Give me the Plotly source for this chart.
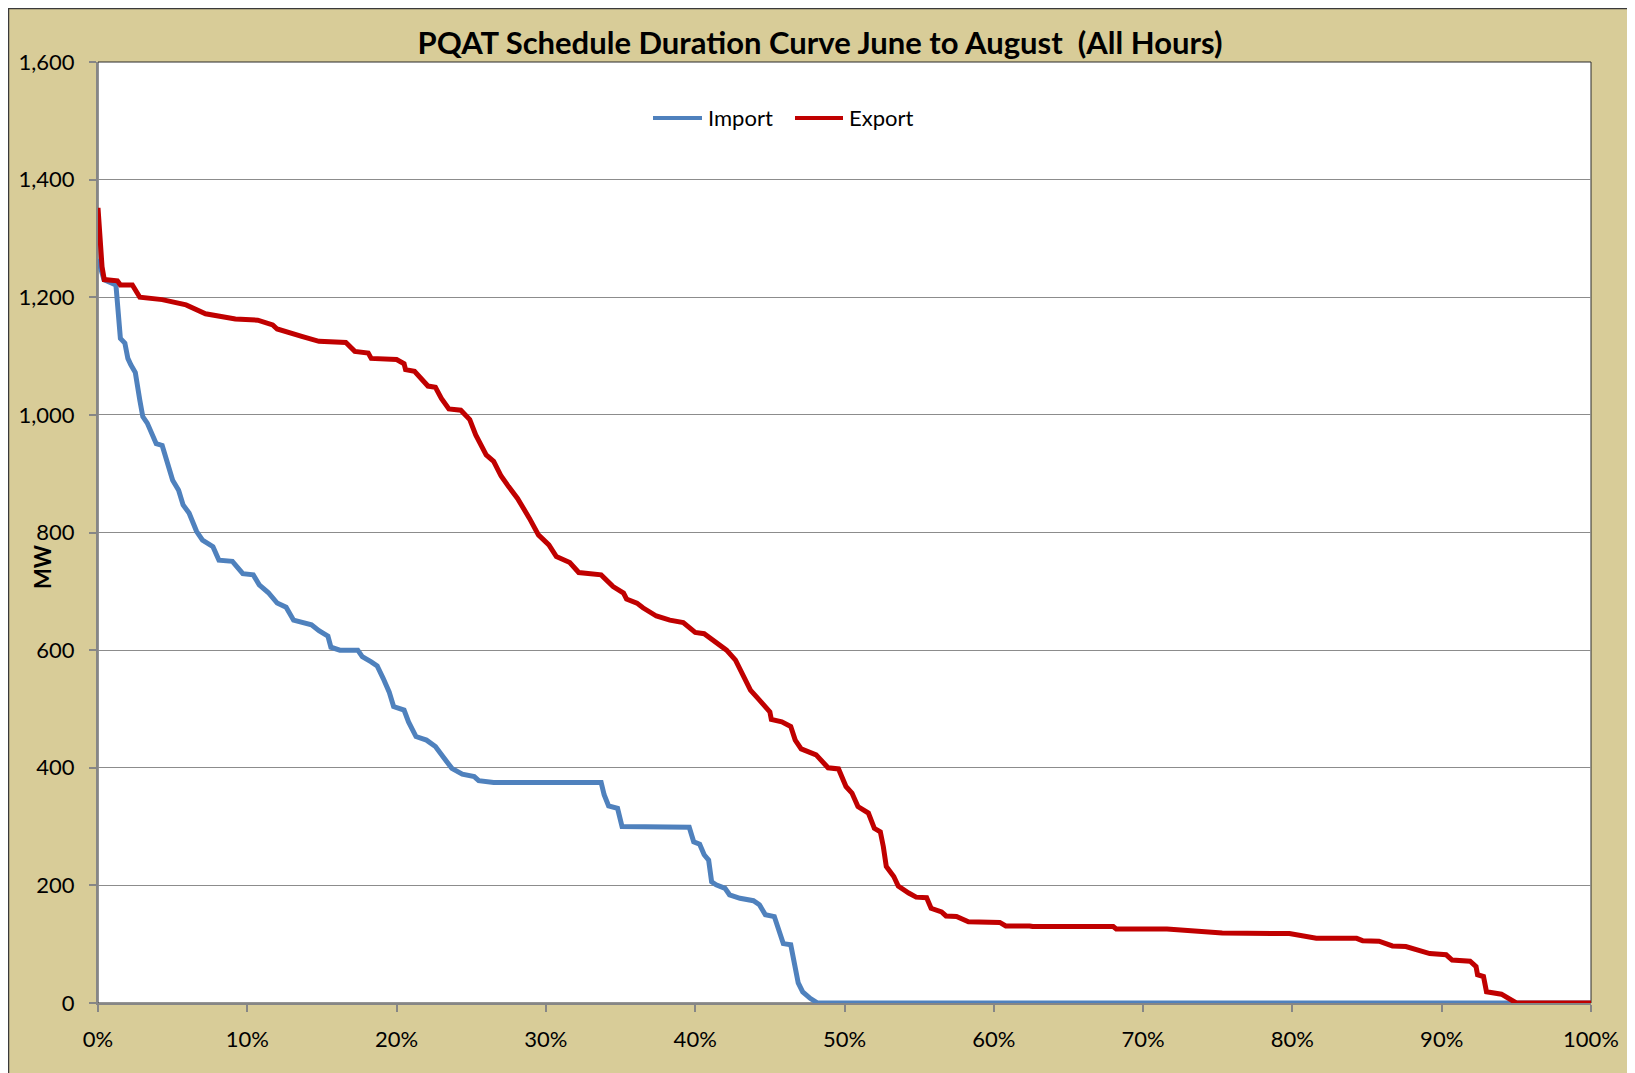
import plotly.graph_objects as go

# Duration curve values (x = % of hours, y = MW)
import_pct = [0, 0.1, 0.4, 1.2, 1.4, 1.5, 1.8, 2.0, 2.2, 2.5,
              2.8, 3.0, 3.3, 3.9, 4.3, 4.7, 5.0, 5.4, 5.7, 6.1,
              6.6, 7.0, 7.7, 8.1, 9.0, 9.7, 10.4, 10.8, 11.4, 12.0,
              12.6, 13.1, 13.7, 14.3, 14.8, 15.4, 15.6, 16.2, 17.4, 17.7,
              18.3, 18.7, 19.1, 19.5, 19.8, 20.5, 20.8, 21.3, 22.0, 22.6,
              23.1, 23.7, 24.4, 25.2, 25.5, 26.5, 33.7, 33.9, 34.2, 34.8,
              35.1, 39.6, 39.9, 40.3, 40.6, 40.9, 41.1, 41.4, 42.0, 42.3,
              43.0, 43.9, 44.3, 44.7, 45.3, 45.6, 45.9, 46.4, 46.6, 46.9,
              47.2, 47.7, 48.2, 100]
import_mw = [1265, 1255, 1230, 1221, 1162, 1130, 1122, 1096, 1085, 1072,
             1025, 997, 986, 951, 948, 912, 889, 872, 847, 833,
             802, 787, 776, 753, 751, 730, 728, 711, 698, 680,
             673, 651, 648, 643, 633, 624, 605, 600, 600, 589,
             580, 573, 552, 529, 504, 498, 478, 453, 447, 436,
             419, 399, 389, 385, 378, 375, 375, 354, 335, 331,
             300, 299, 274, 270, 252, 243, 206, 201, 195, 184,
             178, 174, 167, 150, 147, 124, 101, 99, 68, 34,
             19, 8, 0, 0]

export_pct = [0, 0.27, 0.42, 1.3, 1.5, 2.3, 2.8, 4.3, 5.9, 7.2,
              9.2, 10.7, 11.7, 12.0, 13.7, 14.8, 16.6, 17.2, 18.1, 18.3,
              20.0, 20.5, 20.6, 21.2, 22.1, 22.6, 23.0, 23.5, 24.3, 24.9,
              25.3, 26.0, 26.5, 27.0, 27.5, 28.1, 28.9, 29.5, 30.2, 30.7,
              31.6, 32.2, 33.7, 34.5, 35.2, 35.4, 36.1, 36.5, 37.4, 38.3,
              39.2, 40.0, 40.6, 41.2, 42.1, 42.7, 43.1, 43.5, 43.7, 44.2,
              45.0, 45.1, 45.8, 46.4, 46.7, 47.1, 48.1, 48.9, 49.6, 50.1,
              50.5, 50.9, 51.6, 52.0, 52.4, 52.6, 52.8, 53.3, 53.6, 54.3,
              54.8, 55.5, 55.8, 56.5, 56.8, 57.5, 58.3, 60.4, 60.8, 62.4,
              62.6, 68.0, 68.2, 71.6, 75.3, 79.8, 81.6, 84.3, 84.7, 85.8,
              86.7, 87.6, 89.2, 90.3, 90.7, 91.9, 92.3, 92.4, 92.8, 93.0,
              94.0, 95.0, 100]
export_mw = [1352, 1252, 1230, 1228, 1221, 1221, 1200, 1196, 1187, 1172,
             1163, 1161, 1153, 1146, 1133, 1125, 1123, 1108, 1105, 1096,
             1094, 1087, 1077, 1074, 1049, 1047, 1028, 1010, 1008, 992,
             966, 932, 921, 896, 878, 858, 824, 796, 779, 759,
             749, 732, 728, 708, 697, 687, 680, 672, 658, 651,
             647, 630, 628, 617, 600, 583, 563, 546, 532, 518,
             495, 482, 478, 470, 447, 432, 422, 400, 398, 368,
             357, 334, 323, 297, 291, 266, 232, 215, 199, 187,
             180, 179, 161, 155, 148, 147, 138, 137, 131, 131,
             130, 130, 126, 126, 119, 118, 110, 110, 106, 105,
             97, 96, 84, 82, 73, 71, 62, 48, 45, 19,
             15, 0, 0]

y_ticks = [0, 200, 400, 600, 800, 1000, 1200, 1400, 1600]
x_ticks = [0, 10, 20, 30, 40, 50, 60, 70, 80, 90, 100]
x_labels = ["0%", "10%", "20%", "30%", "40%", "50%", "60%", "70%", "80%", "90%", "100%"]

FONT = "Lato"
TAN = "#D8CC98"
BLUE = "#4F81BD"
RED = "#C00000"
# page body has an 8px margin, so the figure is a little smaller than the window
OFF = 8
W, H = 1627, 1065
ML, MR, MT, MB = 90, 44, 54, 70
PW, PH = W - ML - MR, H - MT - MB


def px_x(p):
    # page pixel -> paper x
    return (p - OFF - ML) / PW


def px_y(p):
    # page pixel -> paper y
    return (H - MB - (p - OFF)) / PH


fig = go.Figure()
fig.add_trace(go.Scatter(x=import_pct, y=import_mw, name="Import", mode="lines",
                         line=dict(color=BLUE, width=5)))
fig.add_trace(go.Scatter(x=export_pct, y=export_mw, name="Export", mode="lines",
                         line=dict(color=RED, width=5)))

shapes = [
    # chart area
    dict(type="rect", xref="paper", yref="paper", layer="below",
         x0=px_x(8.5), x1=px_x(1633), y0=px_y(1080), y1=px_y(8.5),
         fillcolor=TAN, line=dict(color="#3a3a3a", width=1.5)),
    # plot area
    dict(type="rect", xref="paper", yref="paper", layer="below",
         x0=0, x1=1, y0=0, y1=1,
         fillcolor="white", line=dict(color="#2b2b2b", width=1)),
]

# legend drawn by hand (Excel-style longer line keys)
legend_y = px_y(118)
for name, color, x0, x1, tx in [("Import", BLUE, 653, 702, 706),
                                 ("Export", RED, 795, 843, 847)]:
    shapes.append(dict(type="line", xref="paper", yref="paper",
                       x0=px_x(x0), x1=px_x(x1), y0=legend_y, y1=legend_y,
                       line=dict(color=color, width=4)))

annotations = [
    dict(text="<b>MW</b>", xref="paper", yref="paper",
         x=px_x(42), y=px_y(567), xanchor="center", yanchor="middle",
         textangle=-90, showarrow=False,
         font=dict(family=FONT, size=22, color="black")),
    dict(text="Import", xref="paper", yref="paper", x=px_x(706), y=legend_y,
         xanchor="left", yanchor="middle", showarrow=False,
         font=dict(family=FONT, size=22, color="black")),
    dict(text="Export", xref="paper", yref="paper", x=px_x(847), y=legend_y,
         xanchor="left", yanchor="middle", showarrow=False,
         font=dict(family=FONT, size=22, color="black")),
]

fig.update_layout(
    width=W, height=H,
    margin=dict(l=ML, r=MR, t=MT, b=MB),
    paper_bgcolor="white",
    plot_bgcolor="rgba(0,0,0,0)",
    font=dict(family=FONT, size=22, color="black"),
    title=dict(text="<b>PQAT Schedule Duration Curve June to August  (All Hours)</b>",
               xref="container", x=(820 - OFF) / W, xanchor="center",
               yref="container", y=1 - (43 - OFF) / H, yanchor="middle",
               font=dict(family=FONT, size=31, color="black")),
    showlegend=False,
    shapes=shapes,
    annotations=annotations,
)

fig.update_xaxes(range=[0, 100], tickvals=x_ticks, ticktext=x_labels,
                 showgrid=False, zeroline=False,
                 showline=True, linecolor="#868686", linewidth=2,
                 ticks="outside", ticklen=7, tickcolor="#868686", tickwidth=1.5,
                 ticklabelstandoff=9, layer="below traces")
fig.update_yaxes(range=[0, 1600], tickvals=y_ticks, tickformat=",",
                 showgrid=True, gridcolor="#8C8C8C", gridwidth=1, zeroline=False,
                 showline=True, linecolor="#868686", linewidth=2,
                 ticks="outside", ticklen=7, tickcolor="#868686", tickwidth=1.5,
                 ticklabelstandoff=10, layer="below traces")

fig.write_html("out.html")
